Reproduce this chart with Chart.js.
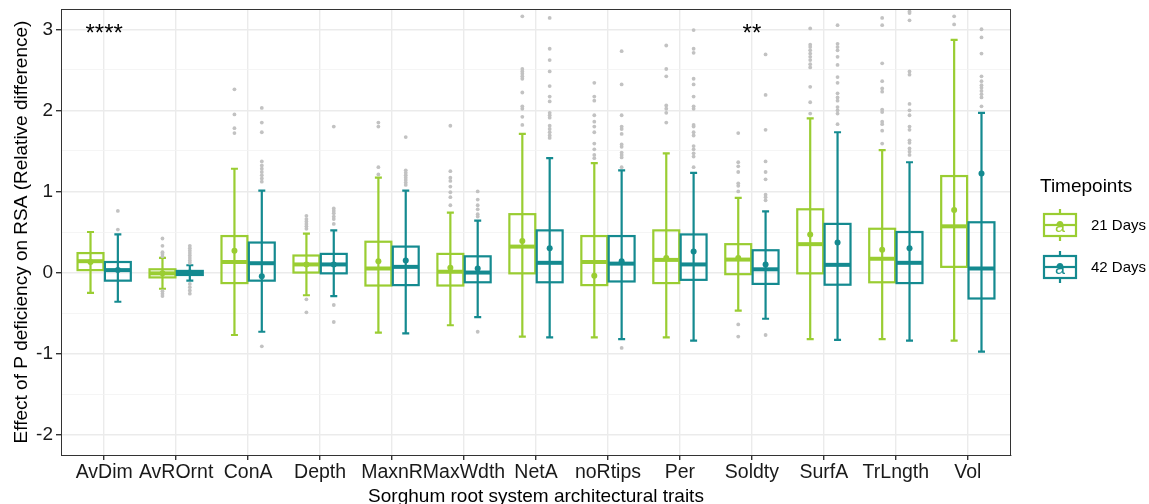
<!DOCTYPE html>
<html>
<head>
<meta charset="utf-8">
<script src="https://cdn.jsdelivr.net/npm/chart.js@4/dist/chart.umd.min.js"></script>
<style>
  body { margin: 0; background: #fff; }
  #wrap { width: 1149px; height: 504px; }
</style>
</head>
<body>
<div id="wrap"><canvas id="rsaChart" width="1149" height="504"></canvas></div>
<script>
const traits = ['AvDim', 'AvROrnt', 'ConA', 'Depth', 'MaxnR', 'MaxWdth', 'NetA', 'noRtips', 'Per', 'Soldty', 'SurfA', 'TrLngth', 'Vol'];
const yTickValues = [-2, -1.5, -1, -0.5, 0, 0.5, 1, 1.5, 2, 2.5, 3];
const groups = ['21 Days', '42 Days'];

// 21 Days: whisker low, Q1, median, Q3, whisker high, mean
const low21 = [-0.25, -0.20, -0.77, -0.28, -0.74, -0.65, -0.79, -0.80, -0.80, -0.47, -0.82, -0.82, -0.84];
const q1_21 = [0.03, -0.06, -0.13, 0.00, -0.16, -0.16, -0.01, -0.155, -0.13, -0.02, -0.01, -0.12, 0.07];
const med21 = [0.14, -0.01, 0.13, 0.10, 0.05, 0.01, 0.32, 0.13, 0.156, 0.16, 0.35, 0.17, 0.57];
const q3_21 = [0.24, 0.04, 0.45, 0.21, 0.38, 0.23, 0.72, 0.45, 0.52, 0.35, 0.78, 0.54, 1.19];
const high21 = [0.50, 0.18, 1.28, 0.48, 1.17, 0.74, 1.71, 1.35, 1.47, 0.92, 1.90, 1.51, 2.87];
const mean21 = [0.13, -0.01, 0.27, 0.10, 0.14, 0.06, 0.39, -0.04, 0.18, 0.18, 0.47, 0.28, 0.77];

// 42 Days
const low42 = [-0.36, -0.10, -0.73, -0.29, -0.75, -0.55, -0.80, -0.82, -0.84, -0.57, -0.83, -0.84, -0.975];
const q1_42 = [-0.10, -0.03, -0.10, -0.01, -0.155, -0.12, -0.12, -0.11, -0.09, -0.14, -0.15, -0.13, -0.32];
const med42 = [0.03, -0.005, 0.115, 0.10, 0.07, 0.00, 0.12, 0.11, 0.10, 0.04, 0.095, 0.12, 0.05];
const q3_42 = [0.13, 0.02, 0.37, 0.23, 0.32, 0.20, 0.52, 0.45, 0.47, 0.275, 0.60, 0.50, 0.62];
const high42 = [0.47, 0.09, 1.01, 0.52, 1.01, 0.64, 1.41, 1.26, 1.23, 0.755, 1.73, 1.36, 1.97];
const mean42 = [0.03, 0.00, -0.045, 0.10, 0.15, 0.05, 0.30, 0.14, 0.26, 0.10, 0.37, 0.30, 1.22];

// outliers per trait
const outliers21 = [
  [],
  [0.42, 0.33, 0.25, 0.23, 0.20, -0.23, -0.26, -0.29],
  [2.26, 1.95, 1.78, 1.72],
  [0.70, 0.66, 0.63, 0.60, 0.57, 0.54, -0.33, -0.49],
  [1.85, 1.80, 1.30, 1.21],
  [1.81, 1.25, 1.17, 1.13, 1.06, 0.99, 0.93, 0.83],
  [3.16, 2.51, 2.48, 2.45, 2.42, 2.39, 2.22, 2.05, 2.02, 1.92, 1.82],
  [2.34, 2.17, 2.12, 1.94, 1.86, 1.80, 1.73, 1.59, 1.52, 1.45, 1.41],
  [2.80, 2.51, 2.42, 2.06, 2.02, 1.97, 1.85],
  [1.72, 1.36, 1.31, 1.24, 1.10, 1.07, 1.00, -0.64, -0.79],
  [3.01, 2.81, 2.78, 2.74, 2.70, 2.66, 2.62, 2.57, 2.53, 2.29, 2.10, 1.96],
  [3.14, 3.05, 2.58, 2.36, 2.27, 2.23, 2.01, 1.98, 1.86, 1.83, 1.75, 1.59],
  [3.16, 3.06]
];
const outliers42 = [
  [0.76, 0.53],
  [0.33, 0.30, 0.27, 0.24, 0.21, 0.18, 0.15, 0.12, -0.14, -0.18, -0.22, -0.26],
  [2.03, 1.85, 1.73, 1.37, 1.32, 1.28, 1.24, 1.20, 1.16, 1.12, -0.91],
  [1.80, 0.79, 0.76, 0.73, 0.69, 0.66, 0.60, -0.40, -0.61],
  [1.67, 1.26, 1.23, 1.20, 1.17, 1.14, 1.11, 1.08],
  [1.00, 0.90, 0.83, 0.78, 0.72, 0.69, -0.73],
  [3.14, 2.76, 2.62, 2.48, 2.30, 2.17, 2.11, 1.97, 1.94, 1.91, 1.81, 1.77, 1.73, 1.69, 1.66],
  [2.73, 2.32, 1.94, 1.80, 1.77, 1.71, 1.58, 1.55, 1.48, 1.45, 1.42, 1.30, -0.93],
  [2.99, 2.76, 2.71, 2.39, 2.32, 2.17, 2.05, 2.02, 1.82, 1.80, 1.73, 1.69, 1.56, 1.52, 1.47, 1.43, 1.30],
  [2.69, 2.19, 1.76, 1.37, 1.24, 1.15, 0.96, 0.93, 0.89, -0.77],
  [3.05, 2.82, 2.78, 2.74, 2.66, 2.56, 2.41, 2.34, 2.21, 2.16, 2.12, 2.04, 2.00, 1.96, 1.83],
  [3.22, 3.20, 3.11, 2.48, 2.44, 2.08, 2.00, 1.94, 1.80, 1.76, 1.63, 1.60, 1.53, 1.49, 1.45],
  [3.00, 2.90, 2.70, 2.42, 2.36, 2.31, 2.28, 2.24, 2.20, 2.16, 2.05]
];

// significance marks
const sigTraits = ['AvDim', 'Soldty'];
const sigText = ['****', '**'];
const sigY = 2.97;

const colors = ['#9acd32', '#148a90'];
const dodge = 0.19;
const boxWidth = 0.36;
const FONT = "'Liberation Sans', Arial, sans-serif";

const boxStats = [
  { low: low21, q1: q1_21, med: med21, q3: q3_21, high: high21 },
  { low: low42, q1: q1_42, med: med42, q3: q3_42, high: high42 }
];

function scatterPoints(lists, shift) {
  const pts = [];
  lists.forEach((vals, i) => vals.forEach(v => pts.push({ x: i + shift, y: v })));
  return pts;
}

// Draw boxes, whiskers and medians from the stats using the chart scales
const boxPlugin = {
  id: 'boxes',
  beforeDatasetsDraw(chart) {
    const { ctx, scales: { x, y } } = chart;
    ctx.save();
    boxStats.forEach((s, g) => {
      const shift = g === 0 ? -dodge : dodge;
      ctx.strokeStyle = colors[g];
      traits.forEach((t, i) => {
        const cx = x.getPixelForValue(i + shift);
        const half = (x.getPixelForValue(boxWidth) - x.getPixelForValue(0)) / 2;
        const yLow = y.getPixelForValue(s.low[i]);
        const yHigh = y.getPixelForValue(s.high[i]);
        const yQ1 = y.getPixelForValue(s.q1[i]);
        const yQ3 = y.getPixelForValue(s.q3[i]);
        const yMed = y.getPixelForValue(s.med[i]);
        // whisker line with caps
        ctx.lineWidth = 2.2;
        ctx.beginPath();
        ctx.moveTo(cx, yLow);
        ctx.lineTo(cx, yHigh);
        ctx.moveTo(cx - 3.5, yLow);
        ctx.lineTo(cx + 3.5, yLow);
        ctx.moveTo(cx - 3.5, yHigh);
        ctx.lineTo(cx + 3.5, yHigh);
        ctx.stroke();
        // box
        ctx.strokeRect(cx - half, yQ3, half * 2, yQ1 - yQ3);
        // median
        ctx.lineWidth = 4;
        ctx.beginPath();
        ctx.moveTo(cx - half, yMed);
        ctx.lineTo(cx + half, yMed);
        ctx.stroke();
      });
    });
    ctx.restore();
  },
  afterDraw(chart) {
    const { ctx, chartArea: a, scales: { x, y } } = chart;
    ctx.save();
    // panel border
    ctx.strokeStyle = '#333';
    ctx.lineWidth = 1;
    ctx.strokeRect(a.left + 0.5, a.top + 0.5, a.right - a.left - 1, a.bottom - a.top);

    // significance stars
    ctx.fillStyle = '#000';
    ctx.font = '24px ' + FONT;
    ctx.textAlign = 'center';
    ctx.textBaseline = 'middle';
    sigTraits.forEach((t, k) => {
      ctx.fillText(sigText[k], x.getPixelForValue(traits.indexOf(t)), y.getPixelForValue(sigY) + 3);
    });

    // legend
    ctx.textAlign = 'left';
    ctx.fillStyle = '#000';
    ctx.font = '19px ' + FONT;
    ctx.fillText('Timepoints', 1040, 187);
    groups.forEach((name, g) => {
      const top = 214 + g * 42;
      const lx = 1044, w = 32, h = 22, cx = lx + w / 2;
      ctx.strokeStyle = colors[g];
      ctx.fillStyle = colors[g];
      ctx.lineWidth = 2.2;
      ctx.beginPath();
      ctx.moveTo(cx, top - 5);
      ctx.lineTo(cx, top);
      ctx.moveTo(cx, top + h);
      ctx.lineTo(cx, top + h + 5);
      ctx.stroke();
      ctx.strokeRect(lx, top, w, h);
      ctx.beginPath();
      ctx.moveTo(lx, top + h / 2);
      ctx.lineTo(lx + w, top + h / 2);
      ctx.stroke();
      ctx.font = '18px ' + FONT;
      ctx.textAlign = 'center';
      ctx.fillText('a', cx, top + h / 2 + 2);
      ctx.beginPath();
      ctx.arc(cx, top + h / 2 - 1, 3, 0, Math.PI * 2);
      ctx.fill();
      ctx.fillStyle = '#000';
      ctx.textAlign = 'left';
      ctx.font = '15px ' + FONT;
      ctx.fillText(name, 1091, top + 12);
    });
    ctx.restore();
  }
};

const ctx = document.getElementById('rsaChart').getContext('2d');
new Chart(ctx, {
  type: 'scatter',
  data: {
    datasets: [
      { label: 'out21', data: scatterPoints(outliers21, -dodge), backgroundColor: '#c2c2c2', borderWidth: 0, pointRadius: 1.9 },
      { label: 'out42', data: scatterPoints(outliers42, dodge), backgroundColor: '#c2c2c2', borderWidth: 0, pointRadius: 1.9 },
      { label: 'mean21', data: mean21.map((v, i) => ({ x: i - dodge, y: v })), backgroundColor: colors[0], borderWidth: 0, pointRadius: 3 },
      { label: 'mean42', data: mean42.map((v, i) => ({ x: i + dodge, y: v })), backgroundColor: colors[1], borderWidth: 0, pointRadius: 3 }
    ]
  },
  options: {
    responsive: false,
    animation: false,
    layout: { padding: { top: 9, right: 138, left: 0, bottom: 0 } },
    plugins: {
      legend: { display: false },
      tooltip: { enabled: false }
    },
    scales: {
      x: {
        type: 'linear',
        min: -0.6,
        max: traits.length - 1 + 0.6,
        afterBuildTicks: scale => { scale.ticks = traits.map((t, i) => ({ value: i })); },
        afterFit: scale => {
          scale.height = 49;
          scale.paddingLeft = 0;
          scale.paddingRight = 0;
        },
        ticks: {
          autoSkip: false,
          maxRotation: 0,
          padding: 1,
          color: '#1a1a1a',
          font: { family: FONT, size: 19.5 },
          callback: v => traits[v] ?? ''
        },
        grid: { color: '#ebebeb', lineWidth: 1.4, tickColor: '#333', tickLength: 5 },
        border: { display: true, color: '#333', width: 1 },
        title: {
          display: true,
          text: 'Sorghum root system architectural traits',
          color: '#000',
          font: { family: FONT, size: 19 },
          padding: { top: 0, bottom: -4 }
        }
      },
      y: {
        min: -2.25,
        max: 3.25,
        afterBuildTicks: scale => { scale.ticks = yTickValues.map(v => ({ value: v })); },
        afterFit: scale => {
          scale.width = 61;
          scale.paddingTop = 0;
          scale.paddingBottom = 0;
        },
        ticks: {
          padding: 3,
          color: '#1a1a1a',
          font: { family: FONT, size: 19 },
          callback: v => Number.isInteger(v) ? String(v) : ''
        },
        grid: {
          color: c => Number.isInteger(c.tick.value) ? '#ebebeb' : '#f2f2f2',
          lineWidth: c => Number.isInteger(c.tick.value) ? 1.4 : 0.8,
          tickColor: c => Number.isInteger(c.tick.value) ? '#333' : 'rgba(0,0,0,0)',
          tickLength: 5
        },
        border: { display: true, color: '#333', width: 1 },
        title: {
          display: true,
          text: 'Effect of P deficiency on RSA (Relative difference)',
          color: '#000',
          font: { family: FONT, size: 19 },
          padding: { top: 10, bottom: 0 }
        }
      }
    }
  },
  plugins: [boxPlugin]
});
</script>
</body>
</html>
